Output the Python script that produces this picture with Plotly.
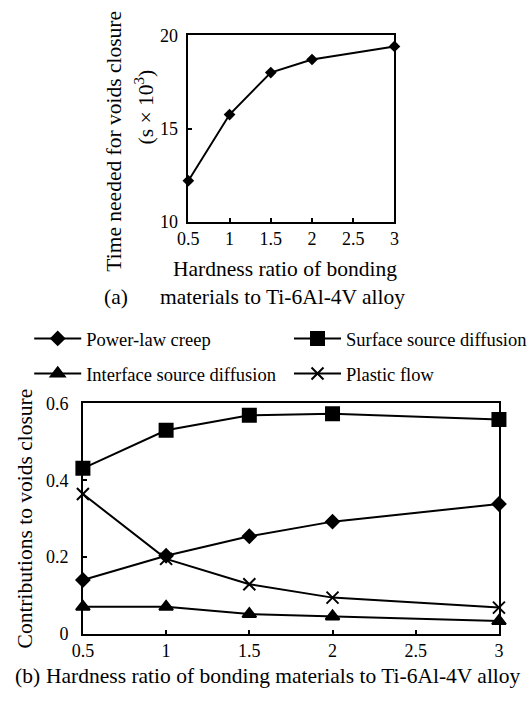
import plotly.graph_objects as go

W, H = 532, 701

# ---- data (a) ----
ratio_a = [0.5, 1, 1.5, 2, 3]
time_a = [12.2, 15.75, 18.0, 18.7, 19.4]

# ---- data (b) ----
ratio_b = [0.5, 1, 1.5, 2, 3]
power_law = [0.140, 0.203, 0.254, 0.292, 0.338]
surface = [0.431, 0.530, 0.569, 0.573, 0.558]
interface = [0.070, 0.070, 0.051, 0.045, 0.033]
plastic = [0.364, 0.195, 0.129, 0.094, 0.068]

x_ticks = [0.5, 1, 1.5, 2, 2.5, 3]
x_ticktext = ["0.5", "1", "1.5", "2", "2.5", "3"]
ya_ticks = [10, 15, 20]
yb_ticks = [0, 0.2, 0.4, 0.6]
yb_ticktext = ["0", "0.2", "0.4", "0.6"]

FONT = "Liberation Serif, Times New Roman, serif"


def px(x):
    return x / W


def py(y):
    return 1 - y / H


fig = go.Figure()

line = dict(color="black", width=2)

fig.add_trace(go.Scatter(
    x=ratio_a, y=time_a, mode="lines+markers", xaxis="x", yaxis="y",
    line=line, marker=dict(symbol="diamond", size=9, color="black"),
    showlegend=False, cliponaxis=False))

series = [
    ("Power-law creep", power_law, "diamond", 10, "legend"),
    ("Surface source diffusion", surface, "square", 13, "legend2"),
    ("Interface source diffusion", interface, "triangle-up", 12, "legend"),
    ("Plastic flow", plastic, "x-thin", 12, "legend2"),
]
for name, vals, sym, size, lg in series:
    fig.add_trace(go.Scatter(
        x=ratio_b, y=vals, name=name, mode="lines+markers",
        xaxis="x2", yaxis="y2", line=line, legend=lg, legendgroup=name,
        marker=dict(symbol=sym, size=size, color="black",
                    line=dict(color="black", width=2)),
        cliponaxis=False))

axis_common = dict(
    showline=True, linecolor="black", linewidth=1.5, mirror=True,
    ticks="inside", ticklen=4, tickcolor="black", tickwidth=1.5,
    showgrid=False, zeroline=False,
    tickfont=dict(family=FONT, size=18, color="black"),
)

fig.update_layout(
    width=W, height=H,
    margin=dict(l=0, r=0, t=0, b=0),
    paper_bgcolor="white", plot_bgcolor="white",
    font=dict(family=FONT, color="black"),
    xaxis=dict(domain=[px(185), px(400)], anchor="y", range=[0.5, 3],
               tickvals=x_ticks, ticktext=x_ticktext, **axis_common),
    yaxis=dict(domain=[py(218), py(26)], anchor="x", range=[10, 20],
               tickvals=ya_ticks, ticklabelstandoff=5, **axis_common),
    xaxis2=dict(domain=[px(75), px(509)], anchor="y2", range=[0.5, 3],
                tickvals=x_ticks, ticktext=x_ticktext, **axis_common),
    yaxis2=dict(domain=[py(642), py(405)], anchor="x2", range=[0, 0.6],
                tickvals=yb_ticks, ticktext=yb_ticktext, ticklabelstandoff=9,
                **axis_common),
    legend=dict(x=px(19), y=py(319), xanchor="left", yanchor="top",
                font=dict(family=FONT, size=18.5, color="black"),
                itemwidth=47, tracegroupgap=8, bgcolor="rgba(0,0,0,0)"),
    legend2=dict(x=px(290), y=py(319), xanchor="left", yanchor="top",
                 font=dict(family=FONT, size=18.5, color="black"),
                 itemwidth=47, tracegroupgap=8, bgcolor="rgba(0,0,0,0)"),
)

TF = dict(family=FONT, size=21.5, color="black")
ann = [
    dict(text="Time needed for voids closure", x=px(108), y=py(135), textangle=-90),
    dict(text="(s × 10<sup>3</sup>)", x=px(139), y=py(100), textangle=-90),
    dict(text="Hardness ratio of bonding", x=px(286), y=py(267)),
    dict(text="materials to Ti-6Al-4V alloy", x=px(283), y=py(295)),
    dict(text="(a)", x=px(110), y=py(295)),
    dict(text="Contributions to voids closure", x=px(15), y=py(523), textangle=-90),
    dict(text="(b)", x=px(17), y=py(686)),
    dict(text="Hardness ratio of bonding materials to Ti-6Al-4V alloy", x=px(284), y=py(686)),
]
for a in ann:
    fig.add_annotation(xref="paper", yref="paper", showarrow=False,
                       xanchor="center", yanchor="middle", font=TF, **a)

fig.write_html("out.html")
